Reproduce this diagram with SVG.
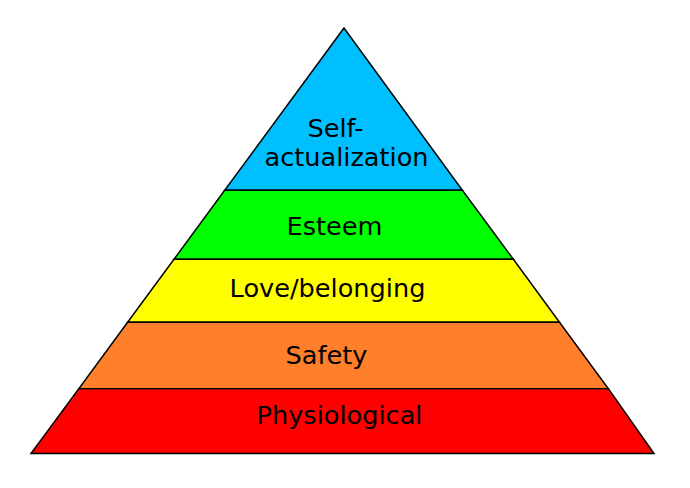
<svg xmlns="http://www.w3.org/2000/svg" width="690" height="488" viewBox="0 0 690 488">
<style>
.band{stroke:#000;stroke-width:1.5;stroke-linejoin:miter}
.lbl{font-family:"DejaVu Sans",sans-serif;font-size:25.6px;fill:#000;text-anchor:middle}
</style>
<rect width="690" height="488" fill="#fff"/>
<g id="self-actualization">
<polygon class="band" fill="#00bfff" points="344,28 224.7,190.3 462.4,190.3"/>
<text class="lbl" x="335.5" y="137">Self-</text>
<text class="lbl" x="346.5" y="166">actualization</text>
</g>
<g id="esteem">
<polygon class="band" fill="#00ff00" points="224.7,190.3 462.4,190.3 513.4,259.3 174,259.3"/>
<text class="lbl" x="334.5" y="235">Esteem</text>
</g>
<g id="love">
<polygon class="band" fill="#ffff00" points="174,259.3 513.4,259.3 559.5,322.3 127.6,322.3"/>
<text class="lbl" x="327.5" y="297">Love/belonging</text>
</g>
<g id="safety">
<polygon class="band" fill="#ff7f2a" points="127.6,322.3 559.5,322.3 608.4,388.7 78.8,388.7"/>
<text class="lbl" x="326.5" y="364">Safety</text>
</g>
<g id="physiological">
<polygon class="band" fill="#ff0000" points="78.8,388.7 608.4,388.7 654,453.5 31,453.5"/>
<text class="lbl" x="339.5" y="424">Physiological</text>
</g>
</svg>
